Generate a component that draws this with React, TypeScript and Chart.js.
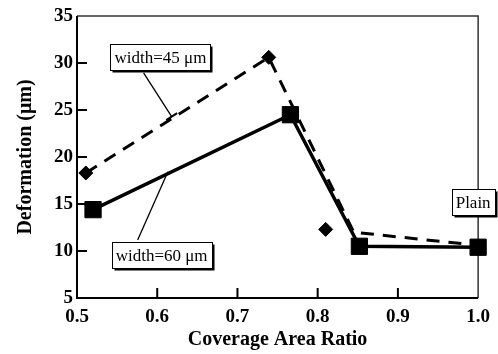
import { useEffect, useRef } from 'react';
import { Chart, registerables } from 'chart.js';
Chart.register(...registerables);

const FONT = '"Liberation Serif", "Times New Roman", serif';

const xTickValues = [0.5, 0.6, 0.7, 0.8, 0.9, 1.0];
const yTickValues = [5, 10, 15, 20, 25, 30, 35];

// width = 60 µm (solid line, squares)
const solidX = [0.52, 0.766, 0.852, 1.0];
const solidY = [14.4, 24.5, 10.5, 10.4];

// width = 45 µm (dashed line)
const dashedX = [0.511, 0.739, 0.845, 1.0];
const dashedY = [18.3, 30.6, 12.0, 10.6];

// width = 45 µm measured points (diamonds)
const diamondX = [0.511, 0.739, 0.81];
const diamondY = [18.3, 30.6, 12.3];

const labelTexts = ['width=45 \u03bcm', 'width=60 \u03bcm', 'Plain'];
const labelCenters = [
  [0.604, 30.6],
  [0.6055, 9.57],
  [0.9938, 15.16],
];
const leaderLines = [
  [0.583, 28.94, 0.618, 24.29, 1],
  [0.5756, 11.17, 0.6133, 18.44, 0],
];

const pts = (xs: number[], ys: number[]) => xs.map((x, i) => ({ x, y: ys[i] }));

const framePlugin = {
  id: 'frame',
  beforeDatasetsDraw(chart: any) {
    const { ctx, chartArea: a, scales } = chart;
    const x = scales.x;
    const y = scales.y;
    ctx.save();
    ctx.lineCap = 'butt';
    ctx.strokeStyle = '#333';
    ctx.lineWidth = 1.5;
    ctx.beginPath();
    ctx.moveTo(a.left, a.top);
    ctx.lineTo(a.right, a.top);
    ctx.lineTo(a.right, a.bottom);
    ctx.stroke();
    ctx.strokeStyle = '#000';
    ctx.lineWidth = 2;
    ctx.beginPath();
    ctx.moveTo(a.left, a.top);
    ctx.lineTo(a.left, a.bottom);
    ctx.lineTo(a.right, a.bottom);
    ctx.stroke();
    ctx.beginPath();
    xTickValues.slice(1, -1).forEach((v) => {
      const px = x.getPixelForValue(v);
      ctx.moveTo(px, a.bottom);
      ctx.lineTo(px, a.bottom - 10);
    });
    yTickValues.slice(1, -1).forEach((v) => {
      const py = y.getPixelForValue(v);
      ctx.moveTo(a.left, py);
      ctx.lineTo(a.left + 10, py);
    });
    ctx.stroke();
    ctx.restore();
  },
  afterDatasetsDraw(chart: any) {
    const { ctx, scales } = chart;
    const x = scales.x;
    const y = scales.y;
    ctx.save();
    // leader lines
    ctx.strokeStyle = '#000';
    ctx.lineWidth = 1.3;
    leaderLines.forEach(([x1, y1, x2, y2, t]) => {
      const p1x = x.getPixelForValue(x1);
      const p1y = y.getPixelForValue(y1);
      const p2x = x.getPixelForValue(x2);
      const p2y = y.getPixelForValue(y2);
      ctx.beginPath();
      ctx.moveTo(p1x, p1y);
      ctx.lineTo(p2x, p2y);
      ctx.stroke();
      if (t) {
        const dx = p2x - p1x;
        const dy = p2y - p1y;
        const len = Math.hypot(dx, dy);
        const nx = -dy / len;
        const ny = dx / len;
        ctx.lineWidth = 2;
        ctx.beginPath();
        ctx.moveTo(p2x - nx * 6.5, p2y - ny * 6.5);
        ctx.lineTo(p2x + nx * 6.5, p2y + ny * 6.5);
        ctx.stroke();
        ctx.lineWidth = 1.3;
      }
    });
    // label boxes
    ctx.font = '17px ' + FONT;
    ctx.textAlign = 'center';
    ctx.textBaseline = 'middle';
    labelTexts.forEach((txt, i) => {
      const cx = x.getPixelForValue(labelCenters[i][0]);
      const cy = y.getPixelForValue(labelCenters[i][1]);
      const w = Math.round(ctx.measureText(txt).width + 8);
      const h = 26;
      const l = Math.round(cx - w / 2) + 0.5;
      const t = Math.round(cy - h / 2) + 0.5;
      ctx.fillStyle = '#000';
      ctx.fillRect(l + 2, t + 2, w, h);
      ctx.fillStyle = '#fff';
      ctx.fillRect(l, t, w, h);
      ctx.lineWidth = 1;
      ctx.strokeStyle = '#000';
      ctx.strokeRect(l, t, w, h);
      ctx.fillStyle = '#000';
      ctx.fillText(txt, cx, cy + 1);
    });
    ctx.restore();
  },
};

export default function App() {
  const ref = useRef<HTMLCanvasElement>(null);
  useEffect(() => {
    if (!ref.current) return;
    const chart = new Chart(ref.current, {
      type: 'scatter',
      data: {
        datasets: [
          {
            label: 'width=60',
            data: pts(solidX, solidY),
            showLine: true,
            borderColor: '#000',
            backgroundColor: '#000',
            borderWidth: 3.5,
            pointStyle: 'rect',
            pointRadius: 11.5,
            pointBorderWidth: 1,
            pointHoverRadius: 11.5,
            clip: false as any,
          },
          {
            label: 'diamonds',
            data: pts(diamondX, diamondY),
            showLine: false,
            borderColor: '#000',
            backgroundColor: '#000',
            pointStyle: 'rectRot',
            pointRadius: 7,
            pointBorderWidth: 1,
            clip: false as any,
          },
          {
            label: 'width=45',
            data: pts(dashedX, dashedY),
            showLine: true,
            borderColor: '#000',
            borderWidth: 3,
            borderDash: [13, 9],
            pointRadius: 0,
            clip: false as any,
          },
        ],
      },
      options: {
        responsive: false,
        animation: false,
        events: [],
        layout: { padding: { left: 0, right: 18, top: 16, bottom: 0 } },
        plugins: { legend: { display: false }, tooltip: { enabled: false } },
        scales: {
          x: {
            type: 'linear',
            min: 0.5,
            max: 1.0,
            grid: { display: false, drawTicks: false },
            border: { display: false },
            afterFit: (s: any) => {
              s.height = 56;
            },
            afterBuildTicks: (s: any) => {
              s.ticks = xTickValues.map((v) => ({ value: v }));
            },
            ticks: {
              padding: 8,
              color: '#000',
              font: { family: FONT, size: 19, weight: 'bold' },
              callback: (v: any) => Number(v).toFixed(1),
            },
            title: {
              display: true,
              text: 'Coverage Area Ratio',
              color: '#000',
              font: { family: FONT, size: 20, weight: 'bold' },
              padding: { top: 0, bottom: 2 },
            },
          },
          y: {
            type: 'linear',
            min: 5,
            max: 35,
            grid: { display: false, drawTicks: false },
            border: { display: false },
            afterFit: (s: any) => {
              s.width = 77;
            },
            afterBuildTicks: (s: any) => {
              s.ticks = yTickValues.map((v) => ({ value: v }));
            },
            ticks: {
              padding: 4,
              color: '#000',
              font: { family: FONT, size: 19, weight: 'bold' },
              callback: (v: any) => String(v),
            },
            title: {
              display: true,
              text: 'Deformation (\u03bcm)',
              color: '#000',
              font: { family: FONT, size: 20, weight: 'bold' },
              padding: { top: 14, bottom: 0 },
            },
          },
        },
      },
      plugins: [framePlugin],
    });
    return () => chart.destroy();
  }, []);
  return (
    <div style={{ position: 'absolute', left: 0, top: 0, width: 498, height: 354, background: '#fff' }}>
      <canvas ref={ref} width={498} height={354} />
    </div>
  );
}
